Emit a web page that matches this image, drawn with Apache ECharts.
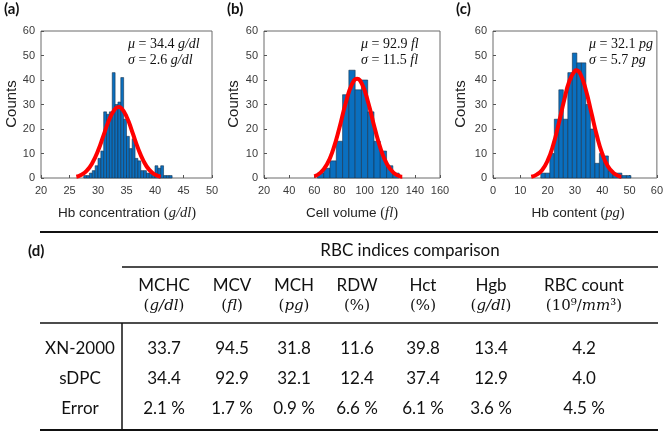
<!DOCTYPE html>
<html><head><meta charset="utf-8">
<script src="https://cdn.jsdelivr.net/npm/echarts@6/dist/echarts.min.js"></script>
<style>html,body{margin:0;padding:0;background:#fff}#c{width:666px;height:432px}</style>
</head><body><div id="c"></div><script>
// ---------- data ----------
// (a) Hb concentration histogram (bin start, width 0.5)
const aBinWidth = 0.5;
const aBinStarts = [27.5,28.0,28.5,29.0,29.5,30.0,30.5,31.0,31.5,32.0,32.5,33.0,33.5,34.0,34.5,35.0,35.5,36.0,36.5,37.0,37.5,38.0,38.5,39.0,39.5,40.0,40.5,41.0,41.5,42.0,42.5];
const aCounts    = [1,1,2,3,5,8,11,27,26,27,43,30,31,41,24,17,12,16,8,7,3,3,2,2,1,5,4,5,1,1,1];
const aFitX = [26.2,27,28,29,30,31,32,33,33.6,34,35,36,37,38,39,40,41];
const aFitY = [0.5,1.2,2.9,6.1,11.1,17.6,24,28.2,29,28.7,25.1,18.9,12.3,6.9,3.3,1.4,0.5];
// (b) Cell volume histogram (bin start, width 5)
const bBinWidth = 5;
const bBinStarts = [62.5,67.5,72.5,77.5,82.5,87.5,92.5,97.5,102.5,107.5,112.5,117.5,122.5];
const bCounts    = [2,4,7,15,34,44,36,40,27,15,11,5,2];
const bFitX = [60,65,70,75,80,85,90,94,98,103,108,113,118,123,128,130];
const bFitY = [0.7,2.2,5.5,11.6,20.5,30.6,38.3,40.5,38.3,30.6,20.5,11.6,5.5,2.2,0.7,0.5];
// (c) Hb content histogram (bin start, width 1.65)
const cBinWidth = 1.65;
const cBinStarts = [17.5,19.15,20.8,22.45,24.1,25.75,27.4,29.05,30.7,32.35,34.0,35.65,37.3,38.95,40.6,42.25,43.9,45.55,47.2,48.85];
const cCounts    = [2,2,10,24,36,24,43,51,47,47,30,20,6,10,9,3,2,2,1,1];
const cFitX = [14,16,18,20,22,24,26,28,30,30.5,32,34,36,38,40,42,44,46,47];
const cFitY = [0.5,1.4,3.3,7.1,13.3,21.9,31.5,39.7,43.8,44,42.4,35.9,26.7,17.4,9.9,4.9,2.2,0.8,0.5];
// axes
const aXTicks = {min:20, max:50, interval:5};
const bXTicks = {min:20, max:160, interval:20};
const cXTicks = {min:0, max:60, interval:10};
const yTicks = {min:0, max:60, interval:10};
// stats text
const statsMu = ['34.4','92.9','32.1'];
const statsSigma = ['2.6','11.5','5.7'];
const statsUnit = ['g/dl','fl','pg'];
const xTitles = ['Hb concentration','Cell volume','Hb content'];
// table (d)
const tableTitle = 'RBC indices comparison';
const colNames = ['MCHC','MCV','MCH','RDW','Hct','Hgb','RBC count'];
const colUnits = ['g/dl','fl','pg','%','%','g/dl','10⁹/mm³'];
const rowNames = ['XN-2000','sDPC','Error'];
const xnValues = ['33.7','94.5','31.8','11.6','39.8','13.4','4.2'];
const sdpcValues = ['34.4','92.9','32.1','12.4','37.4','12.9','4.0'];
const errorValues = ['2.1 %','1.7 %','0.9 %','6.6 %','6.1 %','3.6 %','4.5 %'];

// ---------- layout ----------
const grids = [
  {left:41, top:31, width:171, height:147},
  {left:264, top:31, width:176, height:147},
  {left:493, top:31, width:171, height:147}
];
const SANS = '"Liberation Sans", Arial, sans-serif';
const SERIF = '"Liberation Serif", "DejaVu Serif", serif';
const TSANS = 'Lato, "Open Sans", sans-serif';

function xAxisCfg(i, t){
  return {type:'value', gridIndex:i, min:t.min, max:t.max, interval:t.interval,
    axisLine:{show:false}, splitLine:{show:false},
    axisTick:{show:true, inside:true, length:3, lineStyle:{color:'#555', width:1}},
    axisLabel:{show:true, fontSize:11, color:'#3a3a3a', fontFamily:SANS, margin:7, showMinLabel:true, showMaxLabel:true}};
}
function yAxisCfg(i){
  return {type:'value', gridIndex:i, min:yTicks.min, max:yTicks.max, interval:yTicks.interval,
    axisLine:{show:false}, splitLine:{show:false},
    axisTick:{show:true, inside:true, length:3, lineStyle:{color:'#555', width:1}},
    axisLabel:{show:true, fontSize:11, color:'#3a3a3a', fontFamily:SANS, margin:6, showMinLabel:true, showMaxLabel:true}};
}
function histSeries(i, starts, w, counts){
  return {type:'custom', xAxisIndex:i, yAxisIndex:i, z:2,
    data: starts.map((s,k)=>[s, s+w, counts[k]]),
    encode:{x:[0,1], y:2},
    renderItem:function(params, api){
      const p0 = api.coord([api.value(0), api.value(2)]);
      const p1 = api.coord([api.value(1), 0]);
      return {type:'rect', shape:{x:p0[0], y:p0[1], width:p1[0]-p0[0], height:p1[1]-p0[1]},
        style:{fill:'#0a6fbf', stroke:'#17324d', lineWidth:0.6}};
    }};
}
function fitSeries(i, xs, ys){
  return {type:'line', xAxisIndex:i, yAxisIndex:i, z:5, smooth:true, showSymbol:false, silent:true,
    data: xs.map((x,k)=>[x, ys[k]]), lineStyle:{color:'#ff0000', width:4}};
}

const graphics = [];
const panelLetters = ['(a)','(b)','(c)'];
const letterX = [4, 227, 456];
const statX = [128, 361, 589];
const countsX = [12, 234, 461];
const titleCX = [127, 352, 578];
for (let i=0;i<3;i++){
  graphics.push({type:'text', x:letterX[i], y:2, style:{text:panelLetters[i], font:'bold 15px '+TSANS, fill:'#111'}});
  const rich = {m:{fontFamily:SERIF, fontStyle:'italic', fontSize:14, fill:'#111'}, n:{fontFamily:SERIF, fontSize:14, fill:'#111'}};
  graphics.push({type:'text', x:statX[i], y:37, style:{text:'{m|μ}{n| = '+statsMu[i]+' }{m|'+statsUnit[i]+'}', rich:rich}});
  graphics.push({type:'text', x:statX[i], y:53, style:{text:'{m|σ}{n| = '+statsSigma[i]+' }{m|'+statsUnit[i]+'}', rich:rich}});
  graphics.push({type:'text', x:countsX[i], y:104, rotation:Math.PI/2,
    style:{text:'Counts', font:'15px '+SANS, fill:'#222', align:'center', verticalAlign:'middle'}});
  graphics.push({type:'text', x:titleCX[i], y:213,
    style:{text:'{s|'+xTitles[i]+' }{p|(}{m|'+statsUnit[i]+'}{p|)}', align:'center', verticalAlign:'middle',
      rich:{s:{fontFamily:SANS, fontSize:13.5, fill:'#222'}, p:{fontFamily:SERIF, fontSize:14.5, fill:'#222'}, m:{fontFamily:SERIF, fontStyle:'italic', fontSize:14.5, fill:'#222'}}}});
}
// table
const TL = 40, TR = 658, VX = 122;
const yTop = 232, yTitle = 251, yLine = 267, yH1 = 286, yH2 = 306, yRule = 323, yRows = [349,379,409], yBot = 430;
const colX = [164,232,294,357,423,491,584];
const rowLabelX = 80;
function hline(x1,x2,y,w){ graphics.push({type:'line', shape:{x1:x1,y1:y,x2:x2,y2:y}, style:{stroke:'#111', lineWidth:w}}); }
hline(TL, TR, yTop, 2);
hline(VX, TR, yLine, 1.5);
hline(TL, TR, yRule, 1.5);
hline(TL, TR, yBot, 2);
graphics.push({type:'line', shape:{x1:VX,y1:yRule,x2:VX,y2:yBot}, style:{stroke:'#111', lineWidth:1.5}});
graphics.push({type:'text', x:28, y:yTitle, style:{text:'(d)', font:'bold 15px '+TSANS, fill:'#111', verticalAlign:'middle'}});
graphics.push({type:'text', x:410, y:yTitle, style:{text:tableTitle, font:'17px '+TSANS, fill:'#111', align:'center', verticalAlign:'middle'}});
const tstyle = (t,x,y)=>({type:'text', x:x, y:y, style:{text:t, font:'17px '+TSANS, fill:'#111', align:'center', verticalAlign:'middle'}});
for (let j=0;j<colNames.length;j++){
  graphics.push(tstyle(colNames[j], colX[j], yH1));
  let u = colUnits[j];
  let txt;
  if (u === '%') txt = '{p|(%)}';
  else if (u.indexOf('10')===0) txt = '{p|(10⁹/}{m|mm}{p|³)}';
  else txt = '{p|(}{m|'+u+'}{p|)}';
  graphics.push({type:'text', x:colX[j], y:yH2, style:{text:txt, align:'center', verticalAlign:'middle',
    rich:{p:{fontFamily:'"DejaVu Serif", serif', fontSize:15, fill:'#111'}, m:{fontFamily:'"DejaVu Serif", serif', fontStyle:'italic', fontSize:15, fill:'#111'}}}});
}
const rowsVals = [xnValues, sdpcValues, errorValues];
for (let r=0;r<3;r++){
  graphics.push(tstyle(rowNames[r], rowLabelX, yRows[r]));
  for (let j=0;j<7;j++) graphics.push(tstyle(rowsVals[r][j], colX[j], yRows[r]));
}

const chart = echarts.init(document.getElementById('c'), null, {renderer:'canvas'});
chart.setOption({
  animation:false,
  backgroundColor:'#fff',
  grid: grids.map(g=>Object.assign({show:true, borderColor:'#6a6a6a', borderWidth:1, backgroundColor:'transparent'}, g)),
  xAxis:[xAxisCfg(0,aXTicks), xAxisCfg(1,bXTicks), xAxisCfg(2,cXTicks)],
  yAxis:[yAxisCfg(0), yAxisCfg(1), yAxisCfg(2)],
  series:[
    histSeries(0, aBinStarts, aBinWidth, aCounts), fitSeries(0, aFitX, aFitY),
    histSeries(1, bBinStarts, bBinWidth, bCounts), fitSeries(1, bFitX, bFitY),
    histSeries(2, cBinStarts, cBinWidth, cCounts), fitSeries(2, cFitX, cFitY)
  ],
  graphic: graphics
});
</script></body></html>
